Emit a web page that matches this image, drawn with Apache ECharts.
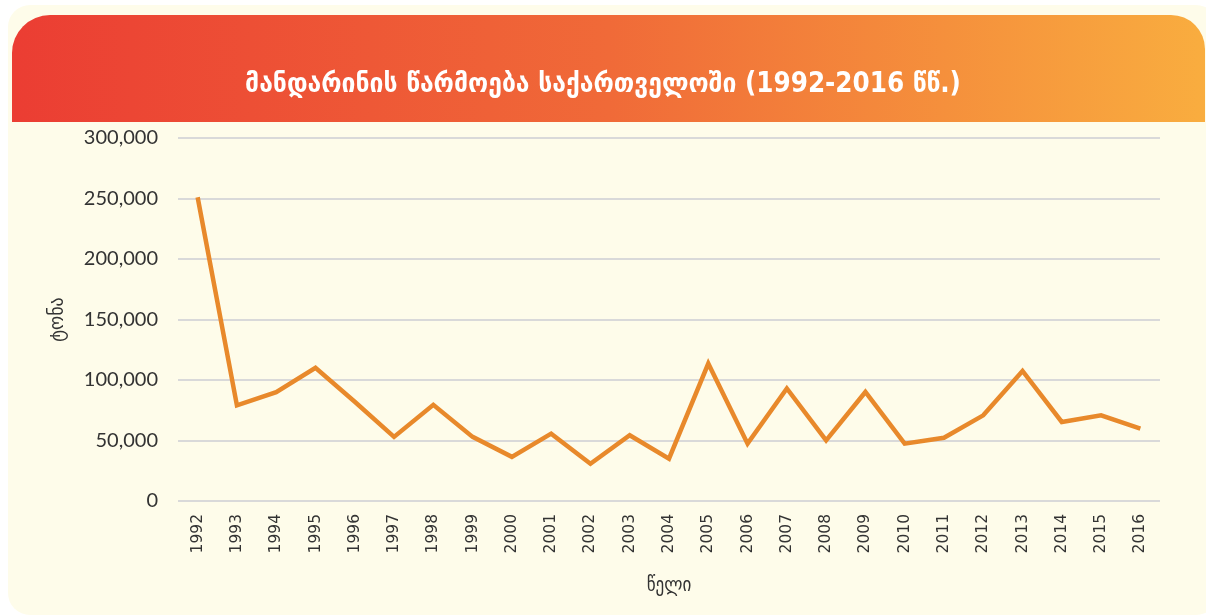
<!DOCTYPE html>
<html>
<head>
<meta charset="utf-8">
<script src="https://cdn.jsdelivr.net/npm/echarts@6/dist/echarts.min.js"></script>
<style>
  html, body { margin: 0; padding: 0; background: #ffffff; }
  #chart { width: 1206px; height: 616px; }
</style>
</head>
<body>
<div id="chart"></div>
<script>
const titleText = 'მანდარინის წარმოება საქართველოში (1992-2016 წწ.)';
const xAxisName = 'წელი';
const yAxisName = 'ტონა';
const years = ['1992','1993','1994','1995','1996','1997','1998','1999','2000','2001','2002','2003','2004','2005','2006','2007','2008','2009','2010','2011','2012','2013','2014','2015','2016'];
const production = [251000, 79000, 90000, 110000, 82000, 53000, 79500, 53000, 36500, 55700, 30800, 54300, 35000, 113600, 47400, 93000, 50100, 90100, 47400, 52300, 70800, 107500, 65300, 70800, 59800];
const yTicks = { min: 0, max: 300000, interval: 50000 };

const chart = echarts.init(document.getElementById('chart'), null, { renderer: 'canvas' });
chart.setOption({
  backgroundColor: '#ffffff',
  animation: false,
  graphic: [
    {
      type: 'rect', z: -20, silent: true,
      shape: { x: 8, y: 5, width: 1210, height: 610, r: 22 },
      style: { fill: '#FEFCEA' }
    },
    {
      type: 'rect', z: -10, silent: true,
      shape: { x: 12, y: 15, width: 1193, height: 107, r: [38, 34, 0, 0] },
      style: {
        fill: new echarts.graphic.LinearGradient(0, 0, 1, 0, [
          { offset: 0, color: '#EB3D33' },
          { offset: 0.5, color: '#F06A38' },
          { offset: 1, color: '#F9AD3F' }
        ])
      }
    }
  ],
  title: {
    text: titleText,
    left: 'center',
    top: 66,
    textStyle: {
      color: '#ffffff',
      fontFamily: 'DejaVu Sans Condensed, DejaVu Sans',
      fontSize: 27.5,
      fontWeight: 'bold'
    }
  },
  grid: { left: 178, right: 46, top: 138, bottom: 115, containLabel: false },
  xAxis: {
    type: 'category',
    data: years,
    boundaryGap: true,
    axisLine: { show: false },
    axisTick: { show: false },
    axisLabel: {
      rotate: 90,
      margin: 13,
      color: '#333333',
      fontFamily: 'DejaVu Sans, sans-serif',
      fontSize: 15.5,
      interval: 0
    },
    name: xAxisName,
    nameLocation: 'middle',
    nameGap: 76,
    nameTextStyle: { color: '#333333', fontFamily: 'DejaVu Sans Condensed, DejaVu Sans', fontSize: 19 }
  },
  yAxis: {
    type: 'value',
    min: yTicks.min,
    max: yTicks.max,
    interval: yTicks.interval,
    axisLine: { show: false },
    axisTick: { show: false },
    splitLine: { lineStyle: { color: '#D9D9D9', width: 2 } },
    axisLabel: {
      margin: 20,
      color: '#333333',
      fontFamily: 'Lato, Liberation Sans, sans-serif',
      fontSize: 20,
      formatter: v => v.toLocaleString('en-US')
    },
    name: yAxisName,
    nameLocation: 'middle',
    nameMoveOverlap: false,
    nameGap: 110,
    nameTextStyle: { color: '#333333', fontFamily: 'DejaVu Sans Condensed, DejaVu Sans', fontSize: 20 }
  },
  series: [{
    type: 'line',
    data: production,
    symbol: 'none',
    lineStyle: { color: '#E8892B', width: 4.5, join: 'miter' },
    itemStyle: { color: '#E8892B' }
  }]
});
</script>
</body>
</html>
